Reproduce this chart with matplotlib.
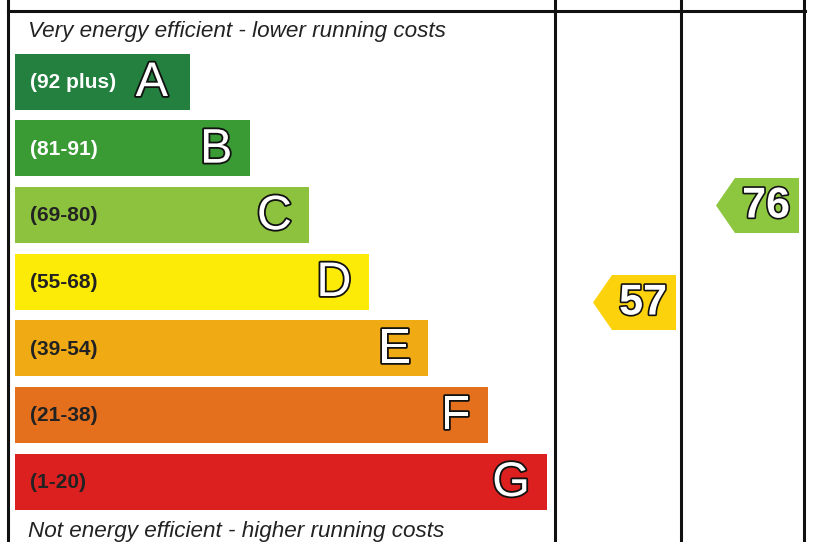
import matplotlib
matplotlib.use("Agg")
import matplotlib.pyplot as plt
from matplotlib.patches import Polygon
import matplotlib.patheffects as pe

# ---- data ----
bands = ["A", "B", "C", "D", "E", "F", "G"]
ranges = ["(92 plus)", "(81-91)", "(69-80)", "(55-68)", "(39-54)", "(21-38)", "(1-20)"]
band_colors = ["#23803f", "#3a9b35", "#8dc23f", "#fbeb06", "#f0aa14", "#e4701e", "#dc1f1f"]
range_text_colors = ["white", "white", "#222222", "#222222", "#222222", "#222222", "#222222"]
current_score = [57]
potential_score = [76]
current_color = ["#fcd20c"]
potential_color = ["#8dc63f"]
top_caption = "Very energy efficient - lower running costs"
bottom_caption = "Not energy efficient - higher running costs"

FONT = "Liberation Sans"

fig = plt.figure(figsize=(8.14, 5.42), dpi=100)
ax = fig.add_axes([0, 0, 1, 1])
ax.set_xlim(0, 814)
ax.set_ylim(542, 0)
ax.axis("off")

# layout
bar_left = 15
bar_top0 = 81.5
bar_step = 66.67
bar_h = 56
w0, wstep = 175, 59.5

centers = [bar_top0 + i * bar_step for i in range(len(bands))]
widths = [w0 + wstep * i for i in range(len(bands))]

ax.barh(centers, widths, left=bar_left, height=bar_h, color=band_colors, edgecolor="none")

outline = [pe.withStroke(linewidth=2.6, foreground="#111111")]
for i, (c, w, r, b, tc) in enumerate(zip(centers, widths, ranges, bands, range_text_colors)):
    ax.text(bar_left + 15, c + 1, r, fontsize=15, fontweight="bold", color=tc,
            family=FONT, va="center", ha="left")
    pad = 22 if i == 0 else 17
    ax.text(bar_left + w - pad, c + 2, b, fontsize=35, color="white", family=FONT,
            va="center", ha="right", path_effects=outline)

# captions
ax.text(28, 37, top_caption, fontsize=16.2, style="italic", family=FONT,
        color="#222222", va="baseline", ha="left")
ax.text(28, 536.5, bottom_caption, fontsize=16.2, style="italic", family=FONT,
        color="#222222", va="baseline", ha="left")

# frame lines
lw = 2.2
ax.plot([8, 8], [0, 542], color="#111111", lw=lw)
ax.plot([8, 805], [11, 11], color="#111111", lw=lw)
col_lines = [555, 681, 804]
for x in col_lines:
    ax.plot([x, x], [0, 542], color="#111111", lw=lw)

# score arrows: vertical position mapped linearly from score
def score_to_y(s):
    return 302.5 - (s - 57) * (97.0 / 19.0)

def arrow(col_right, score, color):
    yc = score_to_y(score)
    h = 55
    length = 83
    notch = 19
    right = col_right - 5
    tip = right - length
    pts = [(tip, yc), (tip + notch, yc - h / 2), (right, yc - h / 2),
           (right, yc + h / 2), (tip + notch, yc + h / 2)]
    ax.add_patch(Polygon(pts, closed=True, facecolor=color, edgecolor="none"))
    ax.text((tip + notch + right) / 2 - 1, yc + 1, str(score), fontsize=31,
            fontweight="bold", color="white", family=FONT, va="center", ha="center",
            path_effects=[pe.withStroke(linewidth=2.4, foreground="#111111")])

for s, col in zip(current_score, current_color):
    arrow(col_lines[1], s, col)
for s, col in zip(potential_score, potential_color):
    arrow(col_lines[2], s, col)

fig.savefig("out.png", dpi=100)
